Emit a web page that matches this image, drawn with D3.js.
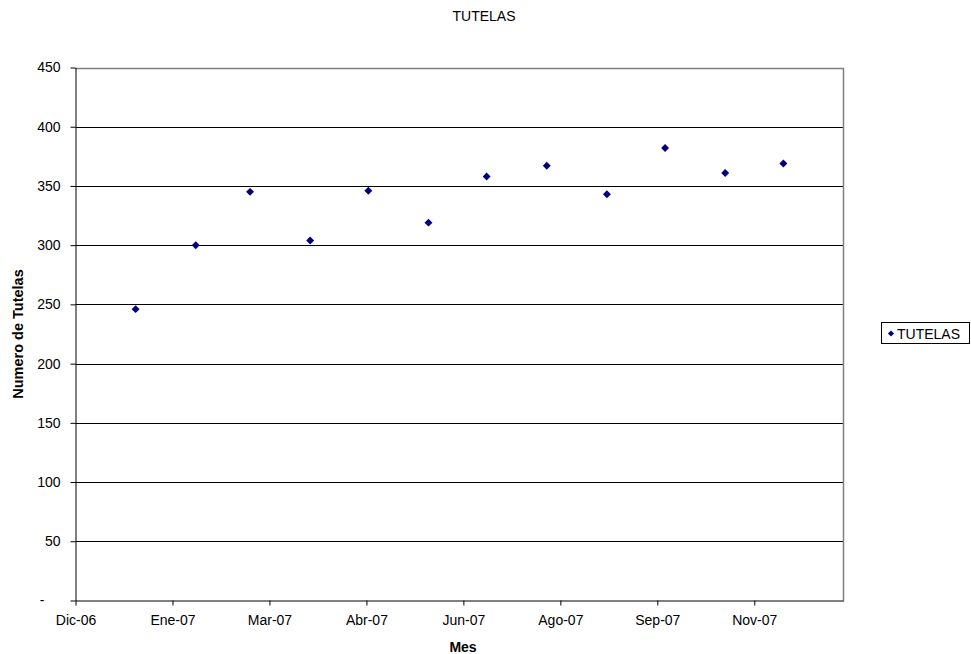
<!DOCTYPE html>
<html>
<head>
<meta charset="utf-8">
<script src="https://cdn.jsdelivr.net/npm/d3@7"></script>
<style>
  html, body { margin: 0; padding: 0; background: #fff; }
  svg { display: block; font-family: Arial, "Liberation Sans", sans-serif; }
</style>
</head>
<body>
<svg id="chart" width="971" height="654"></svg>
<script>
// Monthly count of tutelas filed during 2007
const months = ["2007-01-01","2007-02-01","2007-03-01","2007-04-01","2007-05-01","2007-06-01",
                "2007-07-01","2007-08-01","2007-09-01","2007-10-01","2007-11-01","2007-12-01"];
const tutelas = [246, 300, 345, 304, 346, 319, 358, 367, 343, 382, 361, 369];

// Date axis: 50-day major unit starting on 1 Dec 2006
const xTickDates = ["2006-12-01","2007-01-20","2007-03-11","2007-04-30","2007-06-19",
                    "2007-08-08","2007-09-27","2007-11-16"];
const xTickLabels = ["Dic-06","Ene-07","Mar-07","Abr-07","Jun-07","Ago-07","Sep-07","Nov-07"];
const yTicks = [0, 50, 100, 150, 200, 250, 300, 350, 400, 450];
const yTickLabels = ["-", "50", "100", "150", "200", "250", "300", "350", "400", "450"];

const FONT = "Arial, 'Liberation Sans', sans-serif";
const FS = "14px";

const parse = d3.utcParse("%Y-%m-%d");
const data = months.map((m, i) => ({ date: parse(m), value: tutelas[i] }));

const svg = d3.select("#chart");
const plot = { left: 75.5, right: 843.5, top: 67.5, bottom: 600.5 };

const x = d3.scaleUtc()
  .domain([parse("2006-12-01"), parse("2008-01-01")])
  .range([plot.left, plot.right]);
const y = d3.scaleLinear()
  .domain([0, 450])
  .range([plot.bottom, plot.top]);

// Horizontal gridlines
svg.append("g")
  .selectAll("line")
  .data(yTicks.filter(v => v > 0))
  .join("line")
  .attr("x1", plot.left).attr("x2", plot.right)
  .attr("y1", d => Math.round(y(d)) + 0.5).attr("y2", d => Math.round(y(d)) + 0.5)
  .attr("stroke", "#000").attr("stroke-width", 1);

// Plot area frame (top and right edges)
svg.append("path")
  .attr("d", `M${plot.left},${Math.round(plot.top)+0.5}H${plot.right}V${plot.bottom}`)
  .attr("fill", "none").attr("stroke", "#808080").attr("stroke-width", 1.5);

// Y axis
const yAxis = d3.axisLeft(y)
  .tickValues(yTicks)
  .tickFormat((d, i) => yTickLabels[i])
  .tickSizeInner(5).tickSizeOuter(0).tickPadding(10);
const gy = svg.append("g")
  .attr("transform", `translate(${plot.left},0)`)
  .call(yAxis);
gy.select(".domain").attr("stroke", "#000");
gy.selectAll(".tick line").attr("stroke", "#000");
gy.selectAll(".tick text")
  .attr("font-size", FS).attr("fill", "#000").attr("font-family", FONT)
  .attr("dx", d => d === 0 ? -16 : 0);

// X axis
const xAxis = d3.axisBottom(x)
  .tickValues(xTickDates.map(parse))
  .tickFormat((d, i) => xTickLabels[i])
  .tickSizeInner(5).tickSizeOuter(0).tickPadding(10);
const gx = svg.append("g")
  .attr("transform", `translate(0,${plot.bottom})`)
  .call(xAxis);
gx.select(".domain").attr("stroke", "#000");
gx.selectAll(".tick line").attr("stroke", "#000");
gx.selectAll(".tick text")
  .attr("font-size", FS).attr("fill", "#000").attr("font-family", FONT);

// Diamond markers
const diamond = d3.symbol().type(d3.symbolDiamond2).size(40);
svg.append("g")
  .selectAll("path")
  .data(data)
  .join("path")
  .attr("d", diamond)
  .attr("transform", d => `translate(${x(d.date)},${y(d.value)})`)
  .attr("fill", "#000080");

// Title
svg.append("text")
  .attr("x", 484).attr("y", 21)
  .attr("text-anchor", "middle")
  .attr("font-size", FS)
  .text("TUTELAS");

// Axis titles
svg.append("text")
  .attr("x", 463).attr("y", 652)
  .attr("text-anchor", "middle")
  .attr("font-size", FS).attr("font-weight", "bold")
  .text("Mes");
svg.append("text")
  .attr("transform", `translate(23,${(plot.top + plot.bottom) / 2}) rotate(-90)`)
  .attr("text-anchor", "middle")
  .attr("font-size", "14.5px").attr("font-weight", "bold")
  .text("Numero de Tutelas");

// Legend
const lg = svg.append("g");
lg.append("rect")
  .attr("x", 881.5).attr("y", 322.5).attr("width", 88).attr("height", 21)
  .attr("fill", "#fff").attr("stroke", "#000").attr("stroke-width", 1);
lg.append("path")
  .attr("d", d3.symbol().type(d3.symbolDiamond2).size(24))
  .attr("transform", "translate(891,333.5)")
  .attr("fill", "#000080");
lg.append("text")
  .attr("x", 897).attr("y", 338.5)
  .attr("font-size", FS)
  .text("TUTELAS");
</script>
</body>
</html>
